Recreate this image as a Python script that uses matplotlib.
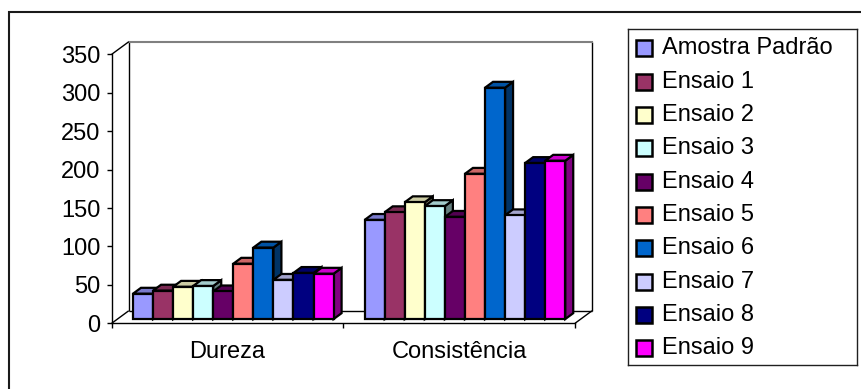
import numpy as np
import matplotlib
matplotlib.use('Agg')
import matplotlib.pyplot as plt
from matplotlib.patches import Rectangle
from matplotlib.colors import to_rgb

plt.rcParams['font.family'] = ['Liberation Sans', 'DejaVu Sans']

# data
categories = ['Dureza', 'Consistência']
series = ['Amostra Padrão', 'Ensaio 1', 'Ensaio 2', 'Ensaio 3', 'Ensaio 4',
          'Ensaio 5', 'Ensaio 6', 'Ensaio 7', 'Ensaio 8', 'Ensaio 9']
dureza = [33, 37, 42, 43, 36, 72, 93, 51, 60, 59]
consistencia = [129, 139, 152, 147, 133, 189, 301, 135, 203, 206]
colors = ['#9999FF', '#993366', '#FFFFCC', '#CCFFFF', '#660066',
          '#FF8080', '#0066CC', '#CCCCFF', '#000080', '#FF00FF']
yticks = [0, 50, 100, 150, 200, 250, 300, 350]

values = [dureza, consistencia]
FS = 17

W, H = 861, 389
fig = plt.figure(figsize=(W / 100, H / 100), dpi=100)

# front plane of the 3d box, in pixels
x0, x1 = 111.7, 575.0
y0, y1 = 323.3, 54.3
ax = fig.add_axes([x0 / W, (H - y0) / H, (x1 - x0) / W, (y0 - y1) / H])
ax.set_xlim(0, 2)
ax.set_ylim(0, 350)

# depth of the box (data units) and where the bars sit inside it
DX = 17.0 / ((x1 - x0) / 2)
DY = 12.5 / ((y0 - y1) / 350)
d_front, d_back = 0.34, 0.81

def shift(x, y, d):
    return x + d * DX, y + d * DY

# walls and floor
lk = dict(color='black', lw=1, clip_on=False, zorder=1, solid_capstyle='butt')
ax.plot([DX, DX], [DY, 350 + DY], **lk)
ax.plot([2 + DX, 2 + DX], [DY, 350 + DY], **lk)
ax.plot([DX, 2 + DX], [350 + DY, 350 + DY], color='#808080', lw=1.5,
        clip_on=False, zorder=1)
ax.plot([DX, 2 + DX], [DY, DY], **lk)
ax.plot([0, DX], [350, 350 + DY], **lk)
ax.plot([0, DX], [0, DY], **lk)
ax.plot([2, 2 + DX], [0, DY], **lk)

# bars
group = 0.866
w = group / len(series)
z = 2
for j, vals in enumerate(values):
    for i, v in enumerate(vals):
        base = np.array(to_rgb(colors[i]))
        left = j + 0.5 - group / 2 + i * w
        ax0, ay0 = shift(left, 0, d_front)
        ax1_, ay1 = shift(left + w, v, d_front)
        bx1, by1 = shift(left + w, v, d_back)
        bx0, by0 = shift(left, v, d_back)
        bxb, byb = shift(left + w, 0, d_back)
        # right side
        ax.fill([ax1_, bxb, bx1, ax1_], [ay0, byb, by1, ay1],
                color=base * 0.5, ec='black', lw=1.6, zorder=z,
                clip_on=False, joinstyle='miter')
        # top
        ax.fill([ax0, bx0, bx1, ax1_], [ay1, by0, by1, ay1],
                color=base * 0.8, ec='black', lw=1.6, zorder=z,
                clip_on=False, joinstyle='miter')
        # front
        ax.bar(ax0, v, width=w, bottom=ay0, align='edge', color=base,
               edgecolor='black', lw=1.6, zorder=z + 0.5, clip_on=False)
        z += 1

for s in ['top', 'right']:
    ax.spines[s].set_visible(False)
ax.spines['left'].set_linewidth(1)
ax.spines['bottom'].set_linewidth(1)
ax.patch.set_alpha(0)

ax.set_yticks(yticks)
ax.tick_params(axis='y', direction='out', length=3.6, width=1, pad=4.5,
               labelsize=FS)
ax.set_xticks([0.5, 1.5])
ax.set_xticklabels(categories)
ax.set_xticks([0, 1, 2], minor=True)
ax.tick_params(axis='x', which='major', length=0, pad=13, labelsize=FS)
ax.tick_params(axis='x', which='minor', direction='out', length=3.6, width=1)

# legend box
lx0, lx1 = 627.7, 857.3
ly0, ly1 = 29.3, 365.0
lax = fig.add_axes([lx0 / W, (H - ly1) / H, (lx1 - lx0) / W, (ly1 - ly0) / H])
lax.set_xlim(lx0, lx1)
lax.set_ylim(ly1, ly0)
lax.set_xticks([])
lax.set_yticks([])
for s in lax.spines.values():
    s.set_linewidth(1)
    s.set_color('#202020')
row = 33.33
for i, name in enumerate(series):
    yc = 48.3 + i * row
    lax.add_patch(Rectangle((636, yc - 8), 16, 16, fc=colors[i], ec='black',
                            lw=1.8))
    lax.text(661.5, yc, name, fontsize=FS, va='center', ha='left')

# outer chart frame
fig.add_artist(Rectangle((9 / W, -0.5), 2, (H - 11.7) / H + 0.5,
                         transform=fig.transFigure, fill=False,
                         ec='#1a1a1a', lw=1.5))

fig.savefig('out.png', dpi=100)
